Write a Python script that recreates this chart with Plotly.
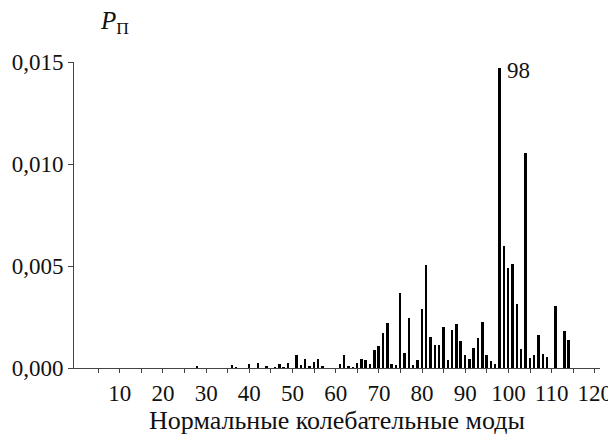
import plotly.graph_objects as go

modes = [28, 36, 37, 40, 42, 44, 46, 47, 48, 49, 51, 52, 53, 54, 55, 56, 57,
         61, 62, 63, 64, 65, 66, 67, 68, 69, 70, 71, 72, 73, 74, 75, 76, 77,
         78, 79, 80, 81, 82, 83, 84, 85, 86, 87, 88, 89, 90, 91, 92, 93, 94,
         95, 96, 97, 98, 99, 100, 101, 102, 103, 104, 105, 106, 107, 108, 109,
         111, 113, 114]
p_values = [0.00005, 0.00016, 0.00003, 0.0002, 0.00025, 0.0001, 0.00003, 0.00018,
            0.00003, 0.00025, 0.00065, 0.00015, 0.00045, 0.0001, 0.0003, 0.00045,
            0.0001, 0.00018, 0.00062, 0.0001, 0.00003, 0.00023, 0.00042, 0.00038,
            0.00018, 0.00087, 0.00106, 0.0017, 0.0022, 0.00018, 0.00013, 0.0037,
            0.00076, 0.00243, 0.00013, 0.0004, 0.0029, 0.00507, 0.00154, 0.00114,
            0.00114, 0.00203, 0.0004, 0.00188, 0.00217, 0.00134, 0.00065, 0.00046,
            0.001, 0.00149, 0.00227, 0.00065, 0.00035, 0.0002, 0.0147, 0.00596,
            0.00489, 0.0051, 0.00312, 0.00093, 0.01052, 0.00049, 0.00062, 0.0016,
            0.00067, 0.00052, 0.00302, 0.0018, 0.00136]

x_tickvals = list(range(5, 121, 5))
x_ticktext = [str(v) if v % 10 == 0 else "" for v in x_tickvals]
y_tickvals = [0.0, 0.005, 0.010, 0.015]

peak_mode = 98
peak_value = p_values[modes.index(peak_mode)]

FF = "Liberation Serif"
TXT = "#111111"

fig = go.Figure()
fig.add_trace(go.Bar(x=modes, y=p_values, width=0.45,
                     marker=dict(color="black", line=dict(width=0)),
                     showlegend=False))

fig.add_annotation(x=peak_mode, y=peak_value, text=str(peak_mode),
                   showarrow=False, xanchor="left", yanchor="middle",
                   xshift=5, yshift=-2,
                   font=dict(family=FF, size=23, color=TXT))
fig.add_annotation(x=0.0, y=1.0, xref="paper", yref="paper",
                   text="<i>P</i><sub>П</sub>", showarrow=False,
                   xanchor="left", yanchor="bottom", xshift=24, yshift=22,
                   font=dict(family=FF, size=25, color=TXT))

fig.update_layout(
    width=616, height=445,
    margin=dict(l=66, r=24, t=54, b=85, autoexpand=False),
    paper_bgcolor="white", plot_bgcolor="white",
    separators=", ",
    font=dict(family=FF, size=22, color=TXT),
    bargap=0,
)
fig.update_xaxes(
    range=[-0.6, 121.2], automargin=False,
    tickmode="array", tickvals=x_tickvals, ticktext=x_ticktext,
    ticks="outside", ticklen=4, tickwidth=1, tickcolor="#444",
    showline=True, linecolor="#444", linewidth=1,
    showgrid=False, zeroline=False,
    tickfont=dict(family=FF, size=23, color=TXT),
    title=dict(text="Нормальные колебательные моды",
               font=dict(family=FF, size=26, color=TXT), standoff=6),
)
fig.update_yaxes(
    range=[0, 0.015], automargin=False,
    tickmode="array", tickvals=y_tickvals, tickformat=".3f",
    ticks="outside", ticklen=5, tickwidth=1, tickcolor="#444",
    showline=True, linecolor="#444", linewidth=1,
    showgrid=False, zeroline=False,
    tickfont=dict(family=FF, size=23, color=TXT),
)

fig.write_html("out.html")
